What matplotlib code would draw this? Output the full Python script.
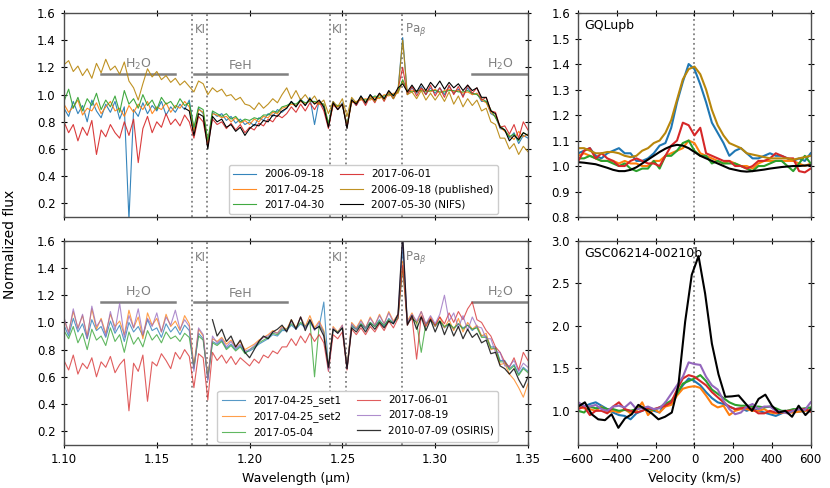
import numpy as np
import matplotlib
matplotlib.use("Agg")
import matplotlib.pyplot as plt

# wavelength grid of the spectra (micron), 0.0025 steps from 1.10 to 1.35
wl = np.round(np.arange(1.10, 1.35001, 0.0025), 4)

# ---------------- GQ Lup b spectra (top left) ----------------
gq_20060918 = [0.90, 0.84, 0.95, 0.86, 0.92, 0.80, 0.96, 0.88, 0.83, 0.93,
               0.87, 0.95, 0.82, 0.91, 0.08, 0.89, 0.84, 0.94, 0.86, 0.92,
               0.88, 0.95, 0.85, 0.91, 0.87, 0.93, 0.89, 0.96,
               0.74, 0.90, 0.86, 0.63,
               0.87, 0.84, 0.86, 0.81, 0.84, 0.79, 0.82, 0.78,
               0.80, 0.77, 0.83, 0.81, 0.86, 0.84, 0.89, 0.87,
               0.90, 0.95, 0.91, 0.97, 0.92, 0.98, 0.78, 0.96,
               0.90, 0.77, 0.95, 0.89, 0.94, 0.76, 0.97, 0.92,
               0.99, 0.93, 1.00, 0.95, 1.01, 0.96, 1.02, 0.97,
               1.04, 1.42, 1.00, 1.05, 1.01, 1.06, 1.00, 1.05,
               1.01, 1.05, 1.00, 1.06, 1.01, 1.04, 0.99, 1.05,
               1.00, 1.01, 0.95, 0.95, 0.86, 0.84, 0.75, 0.74,
               0.68, 0.72, 0.64, 0.70, 0.68]
gq_20170425 = [0.93, 0.87, 0.91, 0.96, 0.85, 0.90, 0.88, 0.94, 0.86, 0.91,
               0.95, 0.88, 0.90, 0.84, 0.92, 0.87, 0.93, 0.89, 0.95, 0.86,
               0.91, 0.89, 0.94, 0.87, 0.92, 0.90, 0.95, 0.91,
               0.73, 0.89, 0.87, 0.64,
               0.86, 0.85, 0.83, 0.84, 0.80, 0.83, 0.79, 0.81,
               0.78, 0.82, 0.80, 0.84, 0.83, 0.87, 0.86, 0.90,
               0.91, 0.93, 0.92, 0.95, 0.93, 0.96, 0.94, 0.93,
               0.93, 0.78, 0.92, 0.91, 0.93, 0.77, 0.94, 0.95,
               0.96, 0.97, 0.96, 0.98, 0.97, 1.00, 0.99, 1.01,
               1.01, 1.10, 1.02, 1.03, 1.02, 1.04, 1.03, 1.02,
               1.04, 1.01, 1.03, 1.04, 1.02, 1.03, 1.01, 1.02,
               1.00, 1.01, 0.96, 0.94, 0.87, 0.84, 0.76, 0.73,
               0.70, 0.67, 0.73, 0.69, 0.71]
gq_20170430 = [0.95, 1.04, 0.90, 0.98, 0.88, 0.97, 0.92, 1.01, 0.89, 0.96,
               0.91, 0.99, 0.87, 1.03, 0.93, 0.97, 0.90, 1.00, 0.92, 0.96,
               0.89, 0.98, 0.93, 0.95, 0.90, 0.97, 0.92, 0.94,
               0.76, 0.91, 0.89, 0.66,
               0.88, 0.86, 0.84, 0.86, 0.82, 0.84, 0.80, 0.82,
               0.81, 0.83, 0.82, 0.85, 0.85, 0.88, 0.87, 0.91,
               0.92, 0.94, 0.93, 0.96, 0.94, 0.95, 0.95, 0.94,
               0.93, 0.79, 0.93, 0.92, 0.92, 0.78, 0.95, 0.94,
               0.97, 0.96, 0.97, 0.99, 0.98, 0.99, 1.00, 1.00,
               1.02, 1.11, 1.03, 1.02, 1.03, 1.03, 1.02, 1.03,
               1.03, 1.02, 1.02, 1.03, 1.03, 1.02, 1.02, 1.03,
               1.01, 1.00, 0.97, 0.95, 0.89, 0.83, 0.77, 0.74,
               0.69, 0.71, 0.66, 0.72, 0.70]
gq_20170601 = [0.80, 0.72, 0.78, 0.66, 0.76, 0.70, 0.81, 0.56, 0.74, 0.69,
               0.78, 0.72, 0.68, 0.80, 0.70, 0.82, 0.50, 0.75, 0.84, 0.72,
               0.80, 0.76, 0.86, 0.78, 0.82, 0.77, 0.85, 0.80,
               0.68, 0.84, 0.80, 0.62,
               0.82, 0.78, 0.80, 0.75, 0.79, 0.74, 0.78, 0.72,
               0.76, 0.74, 0.79, 0.77, 0.82, 0.80, 0.85, 0.83,
               0.86, 0.91, 0.87, 0.93, 0.88, 0.94, 0.89, 0.95,
               0.88, 0.75, 0.93, 0.89, 0.93, 0.76, 0.96, 0.92,
               0.98, 0.92, 0.99, 0.94, 1.01, 0.95, 1.02, 0.97,
               1.04, 1.20, 1.00, 1.06, 0.99, 1.05, 1.00, 1.07,
               0.99, 1.05, 0.98, 1.07, 1.00, 1.06, 0.98, 1.07,
               1.01, 1.05, 0.96, 0.98, 0.88, 0.87, 0.76, 0.77,
               0.71, 0.78, 0.68, 0.80, 0.74]
gq_published = [1.22, 1.25, 1.17, 1.21, 1.14, 1.19, 1.12, 1.23, 1.16, 1.26,
                1.18, 1.21, 1.15, 1.24, 1.10, 1.05, 0.96, 1.08, 1.19, 1.13,
                1.17, 1.11, 1.14, 1.09, 1.12, 1.07, 1.10, 1.06,
                1.02, 1.10, 1.08, 1.00,
                1.05, 1.02, 1.04, 0.99, 1.00, 0.96, 0.98, 0.93,
                0.92, 0.89, 0.94, 0.90, 0.93, 0.97, 0.94, 1.00,
                1.05, 0.97, 1.03, 0.96, 1.00, 0.95, 0.99, 0.93,
                0.96, 0.86, 0.95, 0.91, 0.97, 0.84, 0.98, 0.94,
                0.98, 0.94, 0.99, 0.95, 1.00, 0.96, 1.02, 0.97,
                1.03, 1.40, 1.00, 1.02, 0.97, 1.03, 0.96, 1.01,
                0.96, 1.01, 0.95, 1.02, 0.93, 0.99, 0.91, 0.97,
                0.92, 0.96, 0.88, 0.90, 0.80, 0.78, 0.68, 0.68,
                0.60, 0.64, 0.56, 0.62, 0.58]
# NIFS spectrum starts at 1.165 micron
gq_nifs = [0.90, 0.88,
           0.70, 0.86, 0.84, 0.60,
           0.84, 0.80, 0.82, 0.76, 0.78, 0.73, 0.76, 0.70,
           0.75, 0.78, 0.77, 0.81, 0.80, 0.85, 0.84, 0.88,
           0.90, 0.95, 0.91, 0.96, 0.92, 0.97, 0.93, 0.96,
           0.91, 0.76, 0.94, 0.89, 0.93, 0.75, 0.96, 0.93,
           0.99, 0.94, 1.00, 0.96, 1.01, 0.97, 1.03, 0.99,
           1.05, 1.08, 1.02, 1.07, 1.02, 1.08, 1.03, 1.09,
           1.05, 1.10, 1.04, 1.09, 1.05, 1.08, 1.03, 1.07,
           1.03, 1.05, 0.98, 0.98, 0.88, 0.86, 0.76, 0.74,
           0.66, 0.70, 0.67, 0.72, 0.70]

# ---------------- GSC 06214-00210 b spectra (bottom left) ----------------
gsc_set1 = [0.98, 0.90, 1.03, 0.93, 0.99, 0.88, 1.02, 0.94, 0.97, 0.89,
            1.01, 0.92, 0.98, 0.86, 1.00, 0.93, 0.97, 0.90, 1.02, 0.94,
            0.96, 0.89, 0.99, 0.93, 0.97, 0.91, 0.98, 0.94,
            0.66, 0.92, 0.88, 0.58,
            0.86, 0.84, 0.87, 0.81, 0.84, 0.80, 0.83, 0.78,
            0.79, 0.81, 0.84, 0.86, 0.88, 0.91, 0.90, 0.94,
            0.94, 0.98, 0.95, 0.99, 0.96, 1.00, 0.95, 0.97,
            1.15, 0.66, 0.95, 0.93, 0.96, 0.66, 0.97, 0.95,
            0.99, 0.95, 1.00, 0.97, 1.02, 0.97, 1.03, 0.99,
            1.04, 1.55, 0.99, 1.03, 1.00, 1.04, 0.99, 1.02,
            0.97, 1.01, 0.96, 0.99, 0.95, 0.99, 0.96, 0.98,
            0.94, 0.97, 0.90, 0.90, 0.82, 0.82, 0.72, 0.72,
            0.66, 0.69, 0.62, 0.67, 0.64]
gsc_set2 = [1.02, 0.93, 1.08, 0.96, 1.05, 0.90, 1.10, 0.95, 1.03, 0.92,
            1.06, 0.97, 1.01, 0.91, 1.09, 0.96, 1.04, 0.88, 1.07, 0.98,
            1.03, 0.93, 1.06, 0.97, 1.01, 0.94, 1.05, 0.99,
            0.68, 0.95, 0.90, 0.60,
            0.88, 0.86, 0.89, 0.84, 0.87, 0.82, 0.86, 0.80,
            0.82, 0.84, 0.87, 0.89, 0.91, 0.94, 0.92, 0.97,
            0.95, 1.02, 0.96, 1.04, 0.97, 1.05, 0.96, 1.01,
            0.94, 0.67, 0.97, 0.93, 0.98, 0.67, 1.00, 0.96,
            1.02, 0.96, 1.04, 0.98, 1.06, 0.99, 1.08, 1.01,
            1.06, 1.45, 1.01, 1.07, 0.99, 1.08, 0.98, 1.04,
            0.97, 1.04, 0.96, 1.02, 0.94, 1.03, 0.93, 1.00,
            0.95, 0.98, 0.90, 0.92, 0.80, 0.81, 0.69, 0.70,
            0.62, 0.58, 0.52, 0.45, 0.55]
gsc_20170504 = [0.94, 0.88, 0.97, 0.85, 0.92, 0.80, 0.95, 0.87, 0.90, 0.83,
                0.96, 0.86, 0.91, 0.78, 0.93, 0.84, 0.89, 0.82, 0.94, 0.87,
                0.91, 0.85, 0.93, 0.88, 0.90, 0.86, 0.92, 0.89,
                0.67, 0.90, 0.87, 0.59,
                0.85, 0.83, 0.86, 0.80, 0.83, 0.79, 0.82, 0.77,
                0.80, 0.82, 0.85, 0.87, 0.89, 0.92, 0.91, 0.95,
                0.95, 0.99, 0.96, 1.00, 0.97, 1.01, 0.60, 0.98,
                0.93, 0.66, 0.95, 0.93, 0.96, 0.66, 0.98, 0.95,
                0.99, 0.96, 1.00, 0.97, 1.01, 0.98, 1.02, 1.00,
                1.03, 1.40, 1.00, 1.03, 1.00, 0.78, 0.99, 1.02,
                0.98, 1.01, 0.97, 0.99, 0.96, 0.99, 0.95, 0.98,
                0.95, 0.96, 0.89, 0.89, 0.81, 0.81, 0.71, 0.71,
                0.65, 0.68, 0.61, 0.66, 0.63]
gsc_20170601 = [0.72, 0.65, 0.76, 0.62, 0.70, 0.66, 0.74, 0.60, 0.71, 0.67,
                0.75, 0.63, 0.69, 0.73, 0.35, 0.70, 0.64, 0.76, 0.42, 0.71,
                0.68, 0.77, 0.72, 0.66, 0.78, 0.73, 0.80, 0.75,
                0.52, 0.77, 0.74, 0.43,
                0.78, 0.72, 0.76, 0.70, 0.75, 0.69, 0.74, 0.71,
                0.68, 0.73, 0.70, 0.76, 0.74, 0.79, 0.77, 0.82,
                0.82, 0.88, 0.83, 0.90, 0.85, 0.92, 0.86, 0.91,
                0.85, 0.64, 0.91, 0.88, 0.93, 0.65, 0.95, 0.91,
                0.96, 0.91, 0.97, 0.93, 0.99, 0.94, 1.01, 0.96,
                1.03, 1.42, 0.98, 1.04, 0.73, 1.05, 0.97, 1.03,
                0.98, 1.04, 0.99, 1.07, 1.00, 1.08, 1.02, 1.10,
                1.15, 1.02, 1.00, 0.94, 0.90, 0.82, 0.78, 0.71,
                0.67, 0.74, 0.65, 0.78, 0.72]
gsc_20170819 = [1.04, 0.92, 1.10, 0.95, 1.06, 0.88, 1.12, 0.97, 1.02, 0.90,
                1.08, 0.94, 1.14, 0.89, 1.05, 0.96, 1.10, 0.91, 1.03, 0.97,
                1.07, 0.93, 1.04, 0.98, 1.09, 0.95, 1.02, 0.97,
                0.64, 0.96, 0.91, 0.57,
                0.90, 0.85, 0.88, 0.82, 0.86, 0.81, 0.84, 0.79,
                0.80, 0.83, 0.86, 0.89, 0.90, 0.93, 0.92, 0.96,
                0.94, 1.01, 0.95, 1.04, 0.96, 1.02, 0.94, 1.00,
                0.92, 0.65, 0.96, 0.92, 0.98, 0.66, 0.99, 0.95,
                1.01, 0.96, 1.03, 0.98, 1.05, 0.99, 1.07, 1.00,
                1.06, 1.62, 1.00, 1.06, 1.01, 1.08, 0.99, 1.05,
                0.99, 1.06, 1.20, 1.01, 1.07, 0.96, 1.05, 0.94,
                1.04, 0.97, 0.96, 0.88, 0.88, 0.78, 0.78, 0.68,
                0.68, 0.72, 0.64, 0.70, 0.67]
# OSIRIS spectrum starts at 1.18 micron
gsc_osiris = [1.02, 0.90, 0.95, 0.86, 0.90, 0.82, 0.87, 0.78,
              0.74, 0.80, 0.86, 0.90, 0.88, 0.93, 0.95, 0.98,
              0.93, 1.02, 0.95, 1.04, 0.94, 1.02, 0.95, 0.97,
              0.90, 0.67, 0.95, 0.92, 0.96, 0.66, 0.96, 0.93,
              0.98, 0.93, 0.99, 0.95, 1.00, 0.96, 1.01, 0.99,
              1.06, 1.65, 0.98, 1.05, 0.95, 1.04, 0.94, 1.02,
              0.93, 1.01, 0.91, 0.99, 0.90, 0.97, 0.88, 0.95,
              0.89, 0.92, 0.85, 0.87, 0.77, 0.78, 0.68, 0.66,
              0.62, 0.66, 0.58, 0.52, 0.60]

# ---------------- Pa beta line profiles (right) ----------------
vel = np.arange(-600, 601, 30)
pb_gq_20060918 = [1.05, 1.06, 1.07, 1.04, 1.03, 1.05, 1.06, 1.07, 1.05, 1.05,
                  1.02, 1.02, 1.03, 1.05, 1.08, 1.09, 1.15, 1.25, 1.33, 1.40,
                  1.38, 1.32, 1.25, 1.17, 1.13, 1.09, 1.04, 1.06, 1.07, 1.05,
                  1.03, 1.03, 1.04, 1.05, 1.04, 1.04, 1.03, 1.02, 1.03, 1.02, 1.05]
pb_gq_20170425 = [1.04, 1.05, 1.04, 1.03, 1.02, 1.02, 1.02, 1.01, 1.02, 1.01,
                  1.01, 1.00, 1.00, 1.02, 1.02, 1.04, 1.05, 1.06, 1.07, 1.10,
                  1.09, 1.05, 1.04, 1.03, 1.02, 1.01, 1.02, 1.01, 1.00, 1.00,
                  0.99, 1.01, 1.02, 1.02, 1.02, 1.02, 1.02, 1.02, 1.01, 1.00, 1.01]
pb_gq_20170430 = [1.03, 1.03, 1.04, 1.03, 1.02, 1.02, 1.01, 1.00, 1.01, 0.99,
                  0.98, 0.99, 0.99, 1.02, 0.99, 1.04, 1.04, 1.06, 1.09, 1.10,
                  1.06, 1.04, 1.04, 1.01, 1.02, 1.01, 1.01, 1.01, 1.00, 0.99,
                  0.98, 1.00, 1.00, 1.01, 1.02, 1.02, 1.00, 0.98, 1.01, 1.04, 1.01]
pb_gq_20170601 = [1.02, 1.06, 1.07, 1.03, 1.05, 1.03, 1.02, 1.00, 1.00, 1.02,
                  1.03, 1.02, 1.01, 1.01, 1.00, 1.04, 1.08, 1.10, 1.17, 1.16,
                  1.12, 1.15, 1.05, 1.04, 1.03, 1.02, 1.02, 1.00, 1.00, 0.99,
                  1.00, 1.02, 1.02, 1.03, 1.05, 1.04, 1.03, 1.03, 0.98, 0.975, 0.99]
pb_gq_published = [1.07, 1.07, 1.06, 1.05, 1.05, 1.055, 1.055, 1.05, 1.04, 1.035,
                   1.04, 1.06, 1.07, 1.09, 1.10, 1.13, 1.18, 1.26, 1.34, 1.38,
                   1.39, 1.36, 1.30, 1.22, 1.16, 1.12, 1.09, 1.08, 1.07, 1.05,
                   1.045, 1.04, 1.035, 1.03, 1.03, 1.03, 1.03, 1.025, 1.03, 1.035, 1.04]
pb_gq_nifs = [1.015, 1.013, 1.01, 1.007, 1.0, 0.993, 0.985, 0.98, 0.98, 0.985,
              0.995, 1.01, 1.025, 1.04, 1.055, 1.068, 1.078, 1.083, 1.08, 1.07,
              1.055, 1.04, 1.03, 1.02, 1.01, 1.0, 0.99, 0.985, 0.98, 0.978,
              0.98, 0.983, 0.986, 0.99, 0.993, 0.996, 0.998, 1.0, 1.0, 1.002, 1.003]

pb_gsc_set1 = [1.08, 1.05, 1.08, 1.10, 1.06, 1.02, 0.98, 0.95, 0.94, 0.90,
               0.97, 1.00, 1.03, 1.00, 0.98, 1.10, 1.08, 1.20, 1.30, 1.38,
               1.35, 1.30, 1.22, 1.15, 1.10, 1.08, 1.05, 1.02, 1.03, 1.00,
               1.03, 1.00, 0.98, 0.96, 0.94, 0.97, 1.00, 1.00, 0.99, 1.00, 1.02]
pb_gsc_set2 = [1.05, 1.03, 1.02, 1.00, 1.05, 0.98, 1.00, 0.98, 1.02, 0.97,
               1.00, 1.10, 0.95, 1.02, 0.98, 1.05, 1.07, 1.18, 1.26, 1.28,
               1.29, 1.27, 1.18, 1.08, 1.04, 1.06, 0.95, 1.00, 1.02, 1.02,
               1.00, 1.00, 1.02, 0.98, 0.97, 0.98, 0.98, 0.98, 0.99, 1.00, 1.01]
pb_gsc_20170504 = [1.00, 0.98, 1.05, 1.03, 1.04, 1.02, 1.02, 1.00, 1.01, 1.00,
                   1.02, 1.04, 1.02, 1.01, 1.04, 1.08, 1.12, 1.20, 1.32, 1.35,
                   1.38, 1.42, 1.35, 1.25, 1.20, 1.15, 1.10, 1.07, 1.06, 1.06,
                   1.05, 1.05, 1.04, 1.05, 1.03, 1.00, 1.00, 1.02, 1.02, 1.03, 1.04]
pb_gsc_20170601 = [1.02, 1.05, 0.95, 1.00, 1.00, 0.97, 1.05, 1.10, 1.02, 1.00,
                   0.98, 1.00, 1.03, 1.02, 1.04, 1.06, 1.10, 1.25, 1.38, 1.42,
                   1.40, 1.35, 1.30, 1.22, 1.16, 1.10, 1.05, 1.02, 1.03, 1.04,
                   1.02, 0.97, 0.97, 1.00, 0.98, 0.98, 1.00, 1.00, 1.02, 1.02, 0.99]
pb_gsc_20170819 = [1.10, 1.06, 1.05, 1.07, 1.02, 1.00, 1.05, 1.06, 1.04, 1.10,
                   1.02, 1.03, 1.05, 1.02, 1.03, 1.10, 1.20, 1.30, 1.40, 1.57,
                   1.55, 1.54, 1.40, 1.30, 1.25, 1.12, 1.02, 0.96, 0.98, 1.05,
                   1.08, 1.02, 1.05, 1.05, 1.00, 0.99, 0.97, 1.00, 1.02, 1.01, 1.10]
vel_osiris = [-600, -566, -531, -497, -462, -428, -393, -359, -324, -290,
              -255, -221, -186, -152, -117, -83, -48, -14, 21, 55,
              90, 124, 159, 193, 228, 262, 297, 331, 366, 400,
              435, 469, 504, 538, 573, 607]
pb_gsc_osiris = [1.05, 1.10, 0.96, 0.90, 0.89, 0.96, 0.80, 0.91, 0.96, 1.07,
                 1.02, 0.97, 0.90, 0.93, 0.98, 1.30, 2.05, 2.60, 2.82, 2.38,
                 1.79, 1.43, 1.165, 1.17, 1.18, 1.09, 1.00, 1.14, 1.19, 1.06,
                 0.98, 1.00, 0.93, 1.06, 0.95, 1.03]

gold = '#b8860b'
grey = '0.5'

top_specs = [(gq_20060918, 'C0', '2006-09-18'), (gq_20170425, 'C1', '2017-04-25'),
             (gq_20170430, 'C2', '2017-04-30'), (gq_20170601, 'C3', '2017-06-01'),
             (gq_published, gold, '2006-09-18 (published)')]
bot_specs = [(gsc_set1, 'C0', '2017-04-25_set1'), (gsc_set2, 'C1', '2017-04-25_set2'),
             (gsc_20170504, 'C2', '2017-05-04'), (gsc_20170601, 'C3', '2017-06-01'),
             (gsc_20170819, 'C4', '2017-08-19')]

plt.rcParams['font.size'] = 8.5

fig = plt.figure(figsize=(8.3, 4.88), dpi=100)
ax1 = fig.add_axes([0.0771, 0.5553, 0.559, 0.418])
ax2 = fig.add_axes([0.0771, 0.0885, 0.559, 0.418])
ax3 = fig.add_axes([0.6967, 0.5553, 0.280, 0.418])
ax4 = fig.add_axes([0.6967, 0.0885, 0.280, 0.418])


def style(ax):
    ax.tick_params(direction='inout', top=True, right=True, length=5,
                   width=0.8, labelsize=8.5)
    for s in ax.spines.values():
        s.set_color('0.3')
        s.set_linewidth(1.0)


def annotate_lines(ax):
    for w in [1.1690, 1.1773, 1.2432, 1.2522, 1.2822]:
        ax.axvline(w, color=grey, ls=':', lw=1.3, zorder=1)
    ax.text(1.1704, 1.48, 'KI', color=grey, va='center', fontsize=8.5)
    ax.text(1.2445, 1.48, 'KI', color=grey, va='center', fontsize=8.5)
    ax.text(1.2835, 1.48, r'Pa$_\beta$', color=grey, va='center', fontsize=8.5)
    for x0, x1, lab in [(1.12, 1.16, r'H$_2$O'), (1.17, 1.22, 'FeH'),
                        (1.32, 1.35, r'H$_2$O')]:
        ax.plot([x0, x1], [1.15, 1.15], color=grey, lw=1.8, zorder=1)
        ax.text((x0 + x1) / 2, 1.165, lab, color=grey, ha='center',
                va='bottom', fontsize=9)


# top left
for y, c, lab in top_specs:
    ax1.plot(wl, y, color=c, lw=0.8, alpha=0.9, label=lab)
ax1.plot(wl[26:], gq_nifs, color='k', lw=0.8, label='2007-05-30 (NIFS)')
annotate_lines(ax1)
ax1.set_xlim(1.10, 1.35)
ax1.set_ylim(0.1, 1.6)
ax1.set_yticks(np.arange(0.2, 1.61, 0.2))
ax1.set_xticks(np.arange(1.10, 1.351, 0.05))
ax1.set_xticklabels([])
ax1.legend(ncol=2, loc='lower center', bbox_to_anchor=(0.645, 0.0),
           fontsize=7.5, handlelength=2.2, columnspacing=1.5,
           borderaxespad=0.3, framealpha=1)
style(ax1)

# bottom left
for y, c, lab in bot_specs:
    ax2.plot(wl, y, color=c, lw=0.8, alpha=0.75, label=lab)
ax2.plot(wl[32:], gsc_osiris, color='k', lw=0.9, alpha=0.8,
         label='2010-07-09 (OSIRIS)')
annotate_lines(ax2)
ax2.set_xlim(1.10, 1.35)
ax2.set_ylim(0.1, 1.6)
ax2.set_yticks(np.arange(0.2, 1.61, 0.2))
ax2.set_xticks(np.arange(1.10, 1.351, 0.05))
ax2.set_xticklabels(['%.2f' % t for t in np.arange(1.10, 1.351, 0.05)])
ax2.set_xlabel('Wavelength (µm)', fontsize=9)
ax2.legend(ncol=2, loc='lower center', bbox_to_anchor=(0.633, 0.0),
           fontsize=7.5, handlelength=2.2, columnspacing=1.5,
           borderaxespad=0.3, framealpha=1)
style(ax2)

# top right
for y, c in [(pb_gq_20060918, 'C0'), (pb_gq_20170425, 'C1'),
             (pb_gq_20170430, 'C2'), (pb_gq_20170601, 'C3'),
             (pb_gq_published, gold), (pb_gq_nifs, 'k')]:
    ax3.plot(vel, y, color=c, lw=1.5)
ax3.axvline(0, color=grey, ls=':', lw=1.3, zorder=0)
ax3.text(0.025, 0.94, 'GQLupb', transform=ax3.transAxes, va='center', fontsize=9)
ax3.set_xlim(-600, 600)
ax3.set_ylim(0.8, 1.6)
ax3.set_yticks(np.arange(0.8, 1.61, 0.1))
ax3.set_xticks(np.arange(-600, 601, 200))
ax3.set_xticklabels([])
style(ax3)

# bottom right
for y, c in [(pb_gsc_set1, 'C0'), (pb_gsc_set2, 'C1'),
             (pb_gsc_20170504, 'C2'), (pb_gsc_20170601, 'C3'),
             (pb_gsc_20170819, 'C4')]:
    ax4.plot(vel, y, color=c, lw=1.5)
ax4.plot(vel_osiris, pb_gsc_osiris, color='k', lw=1.5)
ax4.axvline(0, color=grey, ls=':', lw=1.3, zorder=0)
ax4.text(0.025, 0.94, 'GSC06214-00210b', transform=ax4.transAxes,
         va='center', fontsize=9)
ax4.set_xlim(-600, 600)
ax4.set_ylim(0.6, 3.0)
ax4.set_yticks([1.0, 1.5, 2.0, 2.5, 3.0])
ax4.set_xticks(np.arange(-600, 601, 200))
ax4.set_xlabel('Velocity (km/s)', fontsize=9)
style(ax4)

fig.text(0.012, 0.5, 'Normalized flux', rotation=90, va='center',
         ha='center', fontsize=10)

fig.savefig('out.png', dpi=100)
